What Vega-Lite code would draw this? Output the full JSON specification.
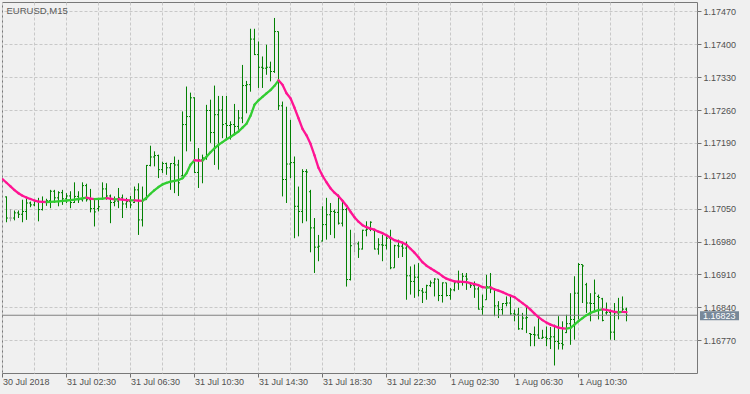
{
"$schema": "https://vega.github.io/schema/vega-lite/v6.json",
"width": 695, "height": 371,
"autosize": "none",
"padding": {"left": 2, "top": 2, "right": 53, "bottom": 21},
"background": "#f0f0f0",
"title": {"text": "EURUSD,M15", "anchor": "start", "frame": "group", "orient": "top", "baseline": "alphabetic", "offset": -12, "dx": 4.5, "dy": 9, "fontSize": 9.5, "fontWeight": "normal", "font": "Liberation Sans", "color": "#5a5a5a"},
"config": {"view": {"stroke": "#787878", "strokeWidth": 1}, "font": "Liberation Sans", "axis": {"labelOverlap": false, "labelBound": false, "labelFlush": false}},
"data": {"format": {"parse": {"t": "date"}}, "values": [
{"t":"2018-07-30T22:30","m":1.171126},
{"t":"2018-07-30T22:45","o":1.17075,"h":1.17076,"l":1.17021,"c":1.17030,"m":1.171051},
{"t":"2018-07-30T23:00","o":1.17030,"h":1.17049,"l":1.17023,"c":1.17030,"m":1.170973},
{"t":"2018-07-30T23:15","o":1.17030,"h":1.17046,"l":1.17025,"c":1.17041,"m":1.170896},
{"t":"2018-07-30T23:30","o":1.17041,"h":1.17046,"l":1.17030,"c":1.17038,"m":1.170828},
{"t":"2018-07-30T23:45","o":1.17038,"h":1.17069,"l":1.17021,"c":1.17044,"m":1.170775},
{"t":"2018-07-31T00:00","o":1.17044,"h":1.17073,"l":1.17026,"c":1.17062,"m":1.170736},
{"t":"2018-07-31T00:15","o":1.17062,"h":1.17065,"l":1.17053,"c":1.17058,"m":1.170705},
{"t":"2018-07-31T00:30","o":1.17058,"h":1.17067,"l":1.17055,"c":1.17065,"m":1.170673},
{"t":"2018-07-31T00:45","o":1.17065,"h":1.17073,"l":1.17023,"c":1.17048,"m":1.170651},
{"t":"2018-07-31T01:00","o":1.17048,"h":1.17076,"l":1.17046,"c":1.17063,"m":1.170645},
{"t":"2018-07-31T01:15","o":1.17063,"h":1.17071,"l":1.17056,"c":1.17067,"m":1.170641},
{"t":"2018-07-31T01:30","o":1.17067,"h":1.17090,"l":1.17051,"c":1.17087,"m":1.170645},
{"t":"2018-07-31T01:45","o":1.17087,"h":1.17090,"l":1.17062,"c":1.17073,"m":1.170649},
{"t":"2018-07-31T02:00","o":1.17073,"h":1.17087,"l":1.17055,"c":1.17084,"m":1.170656},
{"t":"2018-07-31T02:15","o":1.17084,"h":1.17090,"l":1.17058,"c":1.17071,"m":1.170664},
{"t":"2018-07-31T02:30","o":1.17071,"h":1.17083,"l":1.17062,"c":1.17077,"m":1.170673},
{"t":"2018-07-31T02:45","o":1.17077,"h":1.17087,"l":1.17051,"c":1.17063,"m":1.170683},
{"t":"2018-07-31T03:00","o":1.17063,"h":1.17106,"l":1.17062,"c":1.17076,"m":1.170694},
{"t":"2018-07-31T03:15","o":1.17076,"h":1.17087,"l":1.17062,"c":1.17069,"m":1.170705},
{"t":"2018-07-31T03:30","o":1.17069,"h":1.17106,"l":1.17065,"c":1.17099,"m":1.170719},
{"t":"2018-07-31T03:45","o":1.17099,"h":1.17103,"l":1.17065,"c":1.17069,"m":1.170732},
{"t":"2018-07-31T04:00","o":1.17069,"h":1.17092,"l":1.17042,"c":1.17050,"m":1.170715},
{"t":"2018-07-31T04:15","o":1.17050,"h":1.17069,"l":1.17012,"c":1.17043,"m":1.170702},
{"t":"2018-07-31T04:30","o":1.17050,"h":1.17069,"l":1.17044,"c":1.17054,"m":1.170707},
{"t":"2018-07-31T04:45","o":1.17071,"h":1.17106,"l":1.17069,"c":1.17092,"m":1.170715},
{"t":"2018-07-31T05:00","o":1.17092,"h":1.17104,"l":1.17069,"c":1.17077,"m":1.170724},
{"t":"2018-07-31T05:15","o":1.17077,"h":1.17080,"l":1.17019,"c":1.17063,"m":1.170711},
{"t":"2018-07-31T05:30","o":1.17063,"h":1.17076,"l":1.17055,"c":1.17066,"m":1.170698},
{"t":"2018-07-31T05:45","o":1.17066,"h":1.17094,"l":1.17051,"c":1.17073,"m":1.170700},
{"t":"2018-07-31T06:00","o":1.17073,"h":1.17080,"l":1.17030,"c":1.17060,"m":1.170690},
{"t":"2018-07-31T06:15","o":1.17060,"h":1.17073,"l":1.17051,"c":1.17065,"m":1.170681},
{"t":"2018-07-31T06:30","o":1.17065,"h":1.17077,"l":1.17051,"c":1.17058,"m":1.170675},
{"t":"2018-07-31T06:45","o":1.17063,"h":1.17097,"l":1.17062,"c":1.17090,"m":1.170677},
{"t":"2018-07-31T07:00","o":1.17090,"h":1.17104,"l":1.16994,"c":1.17026,"m":1.170670},
{"t":"2018-07-31T07:15","o":1.17026,"h":1.17097,"l":1.17012,"c":1.17069,"m":1.170666},
{"t":"2018-07-31T07:30","o":1.17069,"h":1.17143,"l":1.17069,"c":1.17142,"m":1.170732},
{"t":"2018-07-31T07:45","o":1.17142,"h":1.17184,"l":1.17140,"c":1.17160,"m":1.170817},
{"t":"2018-07-31T08:00","o":1.17160,"h":1.17172,"l":1.17140,"c":1.17163,"m":1.170892},
{"t":"2018-07-31T08:15","o":1.17163,"h":1.17165,"l":1.17115,"c":1.17133,"m":1.170960},
{"t":"2018-07-31T08:30","o":1.17133,"h":1.17150,"l":1.17126,"c":1.17146,"m":1.171015},
{"t":"2018-07-31T08:45","o":1.17146,"h":1.17148,"l":1.17122,"c":1.17137,"m":1.171047},
{"t":"2018-07-31T09:00","o":1.17137,"h":1.17147,"l":1.17090,"c":1.17146,"m":1.171073},
{"t":"2018-07-31T09:15","o":1.17146,"h":1.17161,"l":1.17083,"c":1.17143,"m":1.171090},
{"t":"2018-07-31T09:30","o":1.17143,"h":1.17154,"l":1.17077,"c":1.17105,"m":1.171109},
{"t":"2018-07-31T09:45","o":1.17120,"h":1.17257,"l":1.17119,"c":1.17229,"m":1.171147},
{"t":"2018-07-31T10:00","o":1.17229,"h":1.17310,"l":1.17172,"c":1.17246,"m":1.171253},
{"t":"2018-07-31T10:15","o":1.17246,"h":1.17297,"l":1.17193,"c":1.17286,"m":1.171434},
{"t":"2018-07-31T10:30","o":1.17286,"h":1.17287,"l":1.17126,"c":1.17127,"m":1.171530},
{"t":"2018-07-31T10:45","o":1.17127,"h":1.17179,"l":1.17094,"c":1.17154,"m":1.171524},
{"t":"2018-07-31T11:00","o":1.17154,"h":1.17165,"l":1.17104,"c":1.17158,"m":1.171522},
{"t":"2018-07-31T11:15","o":1.17158,"h":1.17271,"l":1.17154,"c":1.17259,"m":1.171605},
{"t":"2018-07-31T11:30","o":1.17259,"h":1.17282,"l":1.17190,"c":1.17212,"m":1.171700},
{"t":"2018-07-31T11:45","o":1.17212,"h":1.17312,"l":1.17143,"c":1.17250,"m":1.171785},
{"t":"2018-07-31T12:00","o":1.17250,"h":1.17290,"l":1.17133,"c":1.17260,"m":1.171860},
{"t":"2018-07-31T12:15","o":1.17260,"h":1.17290,"l":1.17200,"c":1.17229,"m":1.171917},
{"t":"2018-07-31T12:30","o":1.17231,"h":1.17290,"l":1.17200,"c":1.17227,"m":1.171977},
{"t":"2018-07-31T12:45","o":1.17227,"h":1.17236,"l":1.17197,"c":1.17229,"m":1.172026},
{"t":"2018-07-31T13:00","o":1.17229,"h":1.17273,"l":1.17207,"c":1.17225,"m":1.172083},
{"t":"2018-07-31T13:15","o":1.17225,"h":1.17260,"l":1.17218,"c":1.17243,"m":1.172143},
{"t":"2018-07-31T13:30","o":1.17243,"h":1.17356,"l":1.17232,"c":1.17312,"m":1.172226},
{"t":"2018-07-31T13:45","o":1.17312,"h":1.17322,"l":1.17253,"c":1.17314,"m":1.172307},
{"t":"2018-07-31T14:00","o":1.17314,"h":1.17433,"l":1.17299,"c":1.17411,"m":1.172477},
{"t":"2018-07-31T14:15","o":1.17411,"h":1.17433,"l":1.17377,"c":1.17378,"m":1.172711},
{"t":"2018-07-31T14:30","o":1.17378,"h":1.17406,"l":1.17307,"c":1.17351,"m":1.172807},
{"t":"2018-07-31T14:45","o":1.17351,"h":1.17374,"l":1.17307,"c":1.17349,"m":1.172881},
{"t":"2018-07-31T15:00","o":1.17349,"h":1.17399,"l":1.17335,"c":1.17351,"m":1.172956},
{"t":"2018-07-31T15:15","o":1.17351,"h":1.17363,"l":1.17321,"c":1.17342,"m":1.173024},
{"t":"2018-07-31T15:30","o":1.17342,"h":1.17456,"l":1.17339,"c":1.17427,"m":1.173115},
{"t":"2018-07-31T15:45","o":1.17427,"h":1.17427,"l":1.17260,"c":1.17269,"m":1.173232},
{"t":"2018-07-31T16:00","o":1.17269,"h":1.17278,"l":1.17076,"c":1.17112,"m":1.173136},
{"t":"2018-07-31T16:15","o":1.17112,"h":1.17267,"l":1.17062,"c":1.17145,"m":1.172956},
{"t":"2018-07-31T16:30","o":1.17145,"h":1.17239,"l":1.17115,"c":1.17148,"m":1.172849},
{"t":"2018-07-31T16:45","o":1.17148,"h":1.17161,"l":1.16987,"c":1.17055,"m":1.172647},
{"t":"2018-07-31T17:00","o":1.17055,"h":1.17097,"l":1.16991,"c":1.17044,"m":1.172424},
{"t":"2018-07-31T17:15","o":1.17044,"h":1.17134,"l":1.17019,"c":1.17129,"m":1.172200},
{"t":"2018-07-31T17:30","o":1.17129,"h":1.17134,"l":1.17023,"c":1.17128,"m":1.172062},
{"t":"2018-07-31T17:45","o":1.17086,"h":1.17090,"l":1.16957,"c":1.17009,"m":1.171881},
{"t":"2018-07-31T18:00","o":1.17009,"h":1.17030,"l":1.16913,"c":1.16968,"m":1.171636},
{"t":"2018-07-31T18:15","o":1.16968,"h":1.16994,"l":1.16938,"c":1.16970,"m":1.171370},
{"t":"2018-07-31T18:30","o":1.16981,"h":1.17055,"l":1.16980,"c":1.17016,"m":1.171200},
{"t":"2018-07-31T18:45","o":1.17016,"h":1.17073,"l":1.16984,"c":1.17037,"m":1.171062},
{"t":"2018-07-31T19:00","o":1.17037,"h":1.17062,"l":1.16994,"c":1.17044,"m":1.170934},
{"t":"2018-07-31T19:15","o":1.17044,"h":1.17048,"l":1.16987,"c":1.17042,"m":1.170839},
{"t":"2018-07-31T19:30","o":1.17042,"h":1.17080,"l":1.17016,"c":1.17019,"m":1.170764},
{"t":"2018-07-31T19:45","o":1.17019,"h":1.17065,"l":1.17012,"c":1.17048,"m":1.170668},
{"t":"2018-07-31T20:00","o":1.17048,"h":1.17052,"l":1.16884,"c":1.16899,"m":1.170562},
{"t":"2018-07-31T20:15","o":1.16899,"h":1.17005,"l":1.16897,"c":1.16971,"m":1.170434},
{"t":"2018-07-31T20:30","o":1.16975,"h":1.16998,"l":1.16957,"c":1.16975,"m":1.170317},
{"t":"2018-07-31T20:45","o":1.16975,"h":1.16980,"l":1.16945,"c":1.16964,"m":1.170222},
{"t":"2018-07-31T21:00","o":1.16964,"h":1.17005,"l":1.16963,"c":1.17004,"m":1.170147},
{"t":"2018-07-31T21:15","o":1.17004,"h":1.17023,"l":1.16991,"c":1.17006,"m":1.170105},
{"t":"2018-07-31T21:30","o":1.17006,"h":1.17023,"l":1.17002,"c":1.17021,"m":1.170073},
{"t":"2018-07-31T21:45","o":1.17004,"h":1.17005,"l":1.16963,"c":1.16964,"m":1.170051},
{"t":"2018-07-31T22:00","o":1.16964,"h":1.16987,"l":1.16952,"c":1.16973,"m":1.170009},
{"t":"2018-07-31T22:15","o":1.16973,"h":1.16994,"l":1.16938,"c":1.16972,"m":1.169977},
{"t":"2018-07-31T22:30","o":1.16972,"h":1.16994,"l":1.16963,"c":1.16987,"m":1.169934},
{"t":"2018-07-31T22:45","o":1.16987,"h":1.17005,"l":1.16921,"c":1.16924,"m":1.169881},
{"t":"2018-07-31T23:00","o":1.16924,"h":1.16973,"l":1.16924,"c":1.16971,"m":1.169828},
{"t":"2018-07-31T23:15","o":1.16971,"h":1.16984,"l":1.16945,"c":1.16970,"m":1.169802},
{"t":"2018-07-31T23:30","o":1.16970,"h":1.16978,"l":1.16947,"c":1.16966,"m":1.169775},
{"t":"2018-07-31T23:45","o":1.16966,"h":1.16980,"l":1.16856,"c":1.16907,"m":1.169732},
{"t":"2018-08-01T00:00","o":1.16907,"h":1.16927,"l":1.16867,"c":1.16895,"m":1.169647},
{"t":"2018-08-01T00:15","o":1.16895,"h":1.16931,"l":1.16860,"c":1.16904,"m":1.169562},
{"t":"2018-08-01T00:30","o":1.16904,"h":1.16934,"l":1.16863,"c":1.16876,"m":1.169466},
{"t":"2018-08-01T00:45","o":1.16875,"h":1.16881,"l":1.16849,"c":1.16872,"m":1.169360},
{"t":"2018-08-01T01:00","o":1.16872,"h":1.16888,"l":1.16856,"c":1.16886,"m":1.169285},
{"t":"2018-08-01T01:15","o":1.16886,"h":1.16897,"l":1.16883,"c":1.16892,"m":1.169232},
{"t":"2018-08-01T01:30","o":1.16892,"h":1.16902,"l":1.16863,"c":1.16900,"m":1.169179},
{"t":"2018-08-01T01:45","o":1.16900,"h":1.16900,"l":1.16853,"c":1.16865,"m":1.169126},
{"t":"2018-08-01T02:00","o":1.16865,"h":1.16893,"l":1.16850,"c":1.16892,"m":1.169062},
{"t":"2018-08-01T02:15","o":1.16892,"h":1.16892,"l":1.16863,"c":1.16865,"m":1.169009},
{"t":"2018-08-01T02:30","o":1.16865,"h":1.16881,"l":1.16856,"c":1.16877,"m":1.168977},
{"t":"2018-08-01T02:45","o":1.16877,"h":1.16895,"l":1.16874,"c":1.16892,"m":1.168951},
{"t":"2018-08-01T03:00","o":1.16892,"h":1.16918,"l":1.16877,"c":1.16893,"m":1.168945},
{"t":"2018-08-01T03:15","o":1.16893,"h":1.16913,"l":1.16886,"c":1.16906,"m":1.168941},
{"t":"2018-08-01T03:30","o":1.16906,"h":1.16913,"l":1.16877,"c":1.16900,"m":1.168936},
{"t":"2018-08-01T03:45","o":1.16890,"h":1.16892,"l":1.16881,"c":1.16886,"m":1.168913},
{"t":"2018-08-01T04:00","o":1.16886,"h":1.16895,"l":1.16860,"c":1.16879,"m":1.168892},
{"t":"2018-08-01T04:15","o":1.16879,"h":1.16884,"l":1.16835,"c":1.16836,"m":1.168870},
{"t":"2018-08-01T04:30","o":1.16836,"h":1.16867,"l":1.16824,"c":1.16841,"m":1.168828},
{"t":"2018-08-01T04:45","o":1.16856,"h":1.16909,"l":1.16856,"c":1.16884,"m":1.168819},
{"t":"2018-08-01T05:00","o":1.16884,"h":1.16913,"l":1.16870,"c":1.16879,"m":1.168824},
{"t":"2018-08-01T05:15","o":1.16879,"h":1.16881,"l":1.16821,"c":1.16843,"m":1.168779},
{"t":"2018-08-01T05:30","o":1.16843,"h":1.16853,"l":1.16817,"c":1.16835,"m":1.168753},
{"t":"2018-08-01T05:45","o":1.16835,"h":1.16849,"l":1.16824,"c":1.16848,"m":1.168722},
{"t":"2018-08-01T06:00","o":1.16848,"h":1.16863,"l":1.16842,"c":1.16849,"m":1.168683},
{"t":"2018-08-01T06:15","o":1.16849,"h":1.16863,"l":1.16824,"c":1.16826,"m":1.168647},
{"t":"2018-08-01T06:30","o":1.16826,"h":1.16835,"l":1.16810,"c":1.16825,"m":1.168615},
{"t":"2018-08-01T06:45","o":1.16825,"h":1.16839,"l":1.16792,"c":1.16794,"m":1.168551},
{"t":"2018-08-01T07:00","o":1.16794,"h":1.16828,"l":1.16792,"c":1.16817,"m":1.168487},
{"t":"2018-08-01T07:15","o":1.16817,"h":1.16841,"l":1.16785,"c":1.16818,"m":1.168424},
{"t":"2018-08-01T07:30","o":1.16784,"h":1.16785,"l":1.16757,"c":1.16782,"m":1.168349},
{"t":"2018-08-01T07:45","o":1.16782,"h":1.16799,"l":1.16757,"c":1.16781,"m":1.168264},
{"t":"2018-08-01T08:00","o":1.16781,"h":1.16817,"l":1.16773,"c":1.16774,"m":1.168190},
{"t":"2018-08-01T08:15","o":1.16774,"h":1.16792,"l":1.16773,"c":1.16776,"m":1.168126},
{"t":"2018-08-01T08:30","o":1.16776,"h":1.16799,"l":1.16757,"c":1.16773,"m":1.168073},
{"t":"2018-08-01T08:45","o":1.16773,"h":1.16798,"l":1.16751,"c":1.16777,"m":1.168030},
{"t":"2018-08-01T09:00","o":1.16777,"h":1.16803,"l":1.16716,"c":1.16767,"m":1.167998},
{"t":"2018-08-01T09:15","o":1.16767,"h":1.16821,"l":1.16750,"c":1.16763,"m":1.167966},
{"t":"2018-08-01T09:30","o":1.16763,"h":1.16810,"l":1.16750,"c":1.16760,"m":1.167951},
{"t":"2018-08-01T09:45","o":1.16786,"h":1.16824,"l":1.16785,"c":1.16805,"m":1.167947},
{"t":"2018-08-01T10:00","o":1.16805,"h":1.16870,"l":1.16760,"c":1.16814,"m":1.167960},
{"t":"2018-08-01T10:15","o":1.16814,"h":1.16906,"l":1.16771,"c":1.16870,"m":1.168030},
{"t":"2018-08-01T10:30","o":1.16870,"h":1.16934,"l":1.16814,"c":1.16931,"m":1.168104},
{"t":"2018-08-01T10:45","o":1.16931,"h":1.16931,"l":1.16849,"c":1.16928,"m":1.168168},
{"t":"2018-08-01T11:00","o":1.16888,"h":1.16892,"l":1.16828,"c":1.16849,"m":1.168232},
{"t":"2018-08-01T11:15","o":1.16849,"h":1.16870,"l":1.16810,"c":1.16848,"m":1.168279},
{"t":"2018-08-01T11:30","o":1.16848,"h":1.16899,"l":1.16831,"c":1.16870,"m":1.168311},
{"t":"2018-08-01T11:45","o":1.16863,"h":1.16867,"l":1.16814,"c":1.16861,"m":1.168339},
{"t":"2018-08-01T12:00","o":1.16858,"h":1.16860,"l":1.16810,"c":1.16812,"m":1.168356},
{"t":"2018-08-01T12:15","o":1.16828,"h":1.16850,"l":1.16824,"c":1.16829,"m":1.168343},
{"t":"2018-08-01T12:30","o":1.16829,"h":1.16835,"l":1.16771,"c":1.16787,"m":1.168322},
{"t":"2018-08-01T12:45","o":1.16787,"h":1.16849,"l":1.16770,"c":1.16828,"m":1.168300},
{"t":"2018-08-01T13:00","o":1.16828,"h":1.16860,"l":1.16814,"c":1.16829,"m":1.168294},
{"t":"2018-08-01T13:15","o":1.16829,"h":1.16863,"l":1.16828,"c":1.16836,"m":1.168302},
{"t":"2018-08-01T13:30","o":1.16836,"h":1.16839,"l":1.16810,"c":1.16823,"m":1.168296}
]},
"layer": [
{
"transform": [{"filter": "datum.h != null"}],
"mark": {"type": "rule", "strokeWidth": 1, "clip": true},
"encoding": {
"x": {"field": "t", "type": "temporal", "title": null,
"scale": {"domain": [{"year": 2018, "month": 7, "date": 30, "hours": 22, "minutes": 28, "seconds": 8}, {"year": 2018, "month": 8, "date": 1, "hours": 17, "minutes": 54, "seconds": 23}]},
"axis": {"orient": "bottom", "domain": false, "grid": true, "gridColor": "#c8c8c8", "gridDash": [3, 2], "gridWidth": 1, "tickCount": 40,
"values": [
{"year": 2018, "month": 7, "date": 30, "hours": 22, "minutes": 30},
{"year": 2018, "month": 7, "date": 31, "hours": 0, "minutes": 30},
{"year": 2018, "month": 7, "date": 31, "hours": 2, "minutes": 30},
{"year": 2018, "month": 7, "date": 31, "hours": 4, "minutes": 30},
{"year": 2018, "month": 7, "date": 31, "hours": 6, "minutes": 30},
{"year": 2018, "month": 7, "date": 31, "hours": 8, "minutes": 30},
{"year": 2018, "month": 7, "date": 31, "hours": 10, "minutes": 30},
{"year": 2018, "month": 7, "date": 31, "hours": 12, "minutes": 30},
{"year": 2018, "month": 7, "date": 31, "hours": 14, "minutes": 30},
{"year": 2018, "month": 7, "date": 31, "hours": 16, "minutes": 30},
{"year": 2018, "month": 7, "date": 31, "hours": 18, "minutes": 30},
{"year": 2018, "month": 7, "date": 31, "hours": 20, "minutes": 30},
{"year": 2018, "month": 7, "date": 31, "hours": 22, "minutes": 30},
{"year": 2018, "month": 8, "date": 1, "hours": 0, "minutes": 30},
{"year": 2018, "month": 8, "date": 1, "hours": 2, "minutes": 30},
{"year": 2018, "month": 8, "date": 1, "hours": 4, "minutes": 30},
{"year": 2018, "month": 8, "date": 1, "hours": 6, "minutes": 30},
{"year": 2018, "month": 8, "date": 1, "hours": 8, "minutes": 30},
{"year": 2018, "month": 8, "date": 1, "hours": 10, "minutes": 30},
{"year": 2018, "month": 8, "date": 1, "hours": 12, "minutes": 30},
{"year": 2018, "month": 8, "date": 1, "hours": 14, "minutes": 30},
{"year": 2018, "month": 8, "date": 1, "hours": 16, "minutes": 30}],
"tickSize": 4, "tickColor": "#707070",
"tickOpacity": {"condition": {"test": "hours(datum.value) % 4 == 2 && !(date(datum.value) == 1 && hours(datum.value) > 13)", "value": 1}, "value": 0},
"labelExpr": "(hours(datum.value) % 4 == 2 && !(date(datum.value) == 1 && hours(datum.value) > 13)) ? (date(datum.value) == 30 ? '30 Jul 2018' : timeFormat(datum.value, '%-d %b %H:%M')) : ''",
"labelAlign": "left", "labelBaseline": "top", "labelPadding": 0, "labelFont": "Liberation Sans", "labelFontSize": 9, "labelColor": "#505050", "labelOverlap": false, "labelFlush": false, "labelBound": false}},
"y": {"field": "l", "type": "quantitative", "title": null,
"scale": {"domain": [1.167, 1.1749], "zero": false, "nice": false},
"axis": {"orient": "right", "domain": false, "grid": true, "gridColor": "#c8c8c8", "gridDash": [3, 2], "gridWidth": 1, "tickCount": 40,
"values": [1.1677, 1.1684, 1.1691, 1.1698, 1.1705, 1.1712, 1.1719, 1.1726, 1.1733, 1.174, 1.1747],
"format": ".5f", "tickSize": 4, "tickColor": "#707070", "labelPadding": 2, "labelFont": "Liberation Sans", "labelFontSize": 9, "labelColor": "#505050", "labelOverlap": false, "labelBound": false, "labelFlush": false}},
"y2": {"field": "h"},
"color": {"condition": {"test": "datum.o == datum.c", "value": "#a0a0a0"}, "value": "#008000"}
}
},
{
"transform": [{"filter": "datum.h != null"}],
"mark": {"type": "rule", "strokeWidth": 1, "xOffset": -1.5, "x2Offset": 0, "clip": true},
"encoding": {
"x": {"field": "t", "type": "temporal", "title": null},
"x2": {"field": "t"},
"y": {"field": "o", "type": "quantitative", "title": null},
"color": {"condition": {"test": "datum.o == datum.c", "value": "#a0a0a0"}, "value": "#008000"}
}
},
{
"transform": [{"filter": "datum.h != null"}],
"mark": {"type": "rule", "strokeWidth": 1, "xOffset": 0, "x2Offset": 1.5, "clip": true},
"encoding": {
"x": {"field": "t", "type": "temporal", "title": null},
"x2": {"field": "t"},
"y": {"field": "c", "type": "quantitative", "title": null},
"color": {"condition": {"test": "datum.o == datum.c", "value": "#a0a0a0"}, "value": "#008000"}
}
},
{
"data": {"values": [{"price": 1.16823}]},
"mark": {"type": "rule", "color": "#808080", "strokeWidth": 1},
"encoding": {"y": {"field": "price", "type": "quantitative", "title": null}}
},
{
"transform": [
{"window": [{"op": "lag", "field": "m", "as": "pm"}, {"op": "lag", "field": "t", "as": "pt"}], "sort": [{"field": "t"}]},
{"filter": "datum.pm != null"}
],
"mark": {"type": "rule", "strokeWidth": 2.3, "strokeCap": "round", "clip": true},
"encoding": {
"x": {"field": "pt", "type": "temporal", "title": null},
"x2": {"field": "t"},
"y": {"field": "pm", "type": "quantitative", "title": null},
"y2": {"field": "m"},
"color": {"condition": {"test": "datum.m < datum.pm", "value": "#ff1493"}, "value": "#32cd32"}
}
},
{
"data": {"values": [{"price": 1.16823}]},
"mark": {"type": "rect", "color": "#778899", "xOffset": 3, "x2Offset": 42, "yOffset": -4, "y2Offset": 5},
"encoding": {
"x": {"value": "width"},
"x2": {"value": "width"},
"y": {"field": "price", "type": "quantitative", "title": null},
"y2": {"field": "price"}
}
},
{
"data": {"values": [{"price": 1.16823}]},
"mark": {"type": "text", "align": "left", "baseline": "middle", "dx": 6, "dy": 0.5, "color": "#ffffff", "font": "Liberation Sans", "fontSize": 9},
"encoding": {
"x": {"value": "width"},
"y": {"field": "price", "type": "quantitative", "title": null},
"text": {"field": "price", "type": "quantitative", "format": ".5f"}
}
}
]
}
